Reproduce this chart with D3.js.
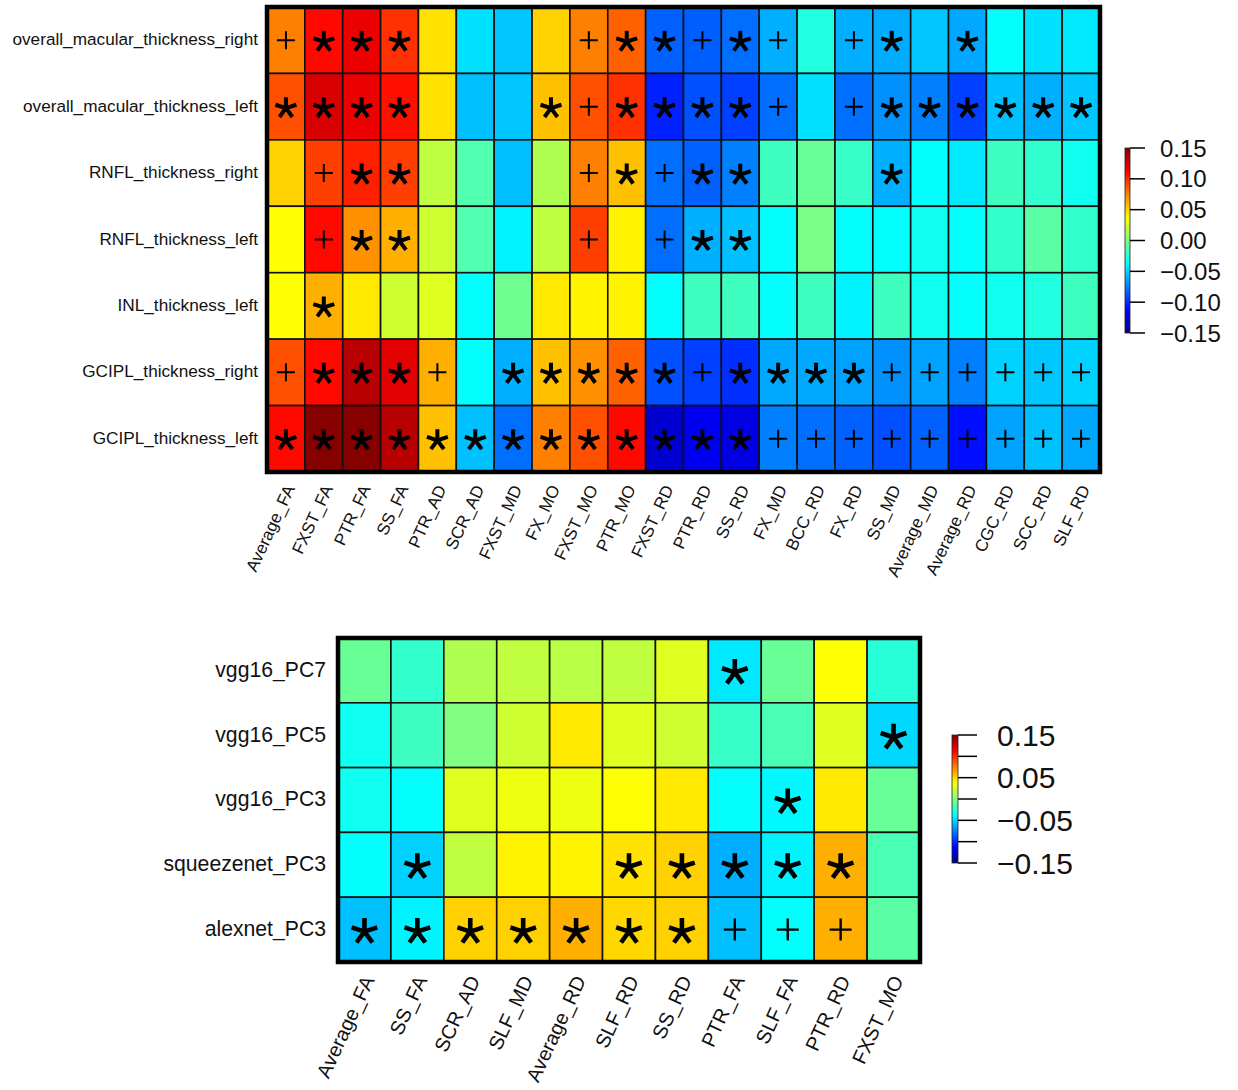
<!DOCTYPE html>
<html>
<head>
<meta charset="utf-8">
<script src="https://cdn.jsdelivr.net/npm/d3@7"></script>
<style>
  html, body { margin: 0; padding: 0; background: #fff; }
  svg { display: block; font-family: "Liberation Sans", Arial, Helvetica, sans-serif; }
</style>
</head>
<body>
<svg id="chart" width="1238" height="1090"></svg>
<script>
// ---------------- DATA ----------------
const topRows = ["overall_macular_thickness_right", "overall_macular_thickness_left", "RNFL_thickness_right",
  "RNFL_thickness_left", "INL_thickness_left", "GCIPL_thickness_right", "GCIPL_thickness_left"];
const topCols = ["Average_FA", "FXST_FA", "PTR_FA", "SS_FA", "PTR_AD", "SCR_AD", "FXST_MD", "FX_MO", "FXST_MO",
  "PTR_MO", "FXST_RD", "PTR_RD", "SS_RD", "FX_MD", "BCC_RD", "FX_RD", "SS_MD", "Average_MD", "Average_RD",
  "CGC_RD", "SCC_RD", "SLF_RD"];
const topValues = [
  [0.075, 0.110, 0.118, 0.098, 0.046, -0.046, -0.054, 0.051, 0.075, 0.084, -0.084, -0.085, -0.080, -0.061, -0.028, -0.061, -0.062, -0.054, -0.063, -0.037, -0.046, -0.044],
  [0.089, 0.124, 0.118, 0.108, 0.046, -0.056, -0.054, 0.056, 0.089, 0.098, -0.103, -0.089, -0.094, -0.080, -0.046, -0.080, -0.070, -0.075, -0.094, -0.056, -0.061, -0.054],
  [0.051, 0.094, 0.103, 0.094, 0.019, -0.014, -0.056, 0.014, 0.075, 0.056, -0.080, -0.084, -0.075, -0.019, -0.007, -0.021, -0.061, -0.037, -0.044, -0.019, -0.023, -0.033],
  [0.037, 0.110, 0.070, 0.061, 0.023, -0.014, -0.041, 0.019, 0.094, 0.041, -0.080, -0.061, -0.056, -0.037, -0.002, -0.037, -0.037, -0.033, -0.037, -0.023, -0.011, -0.023],
  [0.037, 0.061, 0.044, 0.023, 0.028, -0.037, -0.005, 0.044, 0.041, 0.041, -0.037, -0.019, -0.019, -0.037, -0.019, -0.041, -0.019, -0.033, -0.037, -0.033, -0.028, -0.019],
  [0.089, 0.110, 0.133, 0.121, 0.061, -0.037, -0.061, 0.056, 0.070, 0.084, -0.089, -0.094, -0.099, -0.063, -0.063, -0.065, -0.070, -0.065, -0.075, -0.051, -0.054, -0.051],
  [0.110, 0.148, 0.148, 0.133, 0.056, -0.056, -0.080, 0.075, 0.089, 0.110, -0.126, -0.117, -0.121, -0.075, -0.080, -0.084, -0.089, -0.084, -0.108, -0.065, -0.056, -0.063]
];
const topMarks = [
  ["+", "*", "*", "*", "", "", "", "", "+", "*", "*", "+", "*", "+", "", "+", "*", "", "*", "", "", ""],
  ["*", "*", "*", "*", "", "", "", "*", "+", "*", "*", "*", "*", "+", "", "+", "*", "*", "*", "*", "*", "*"],
  ["", "+", "*", "*", "", "", "", "", "+", "*", "+", "*", "*", "", "", "", "*", "", "", "", "", ""],
  ["", "+", "*", "*", "", "", "", "", "+", "", "+", "*", "*", "", "", "", "", "", "", "", "", ""],
  ["", "*", "", "", "", "", "", "", "", "", "", "", "", "", "", "", "", "", "", "", "", ""],
  ["+", "*", "*", "*", "+", "", "*", "*", "*", "*", "*", "+", "*", "*", "*", "*", "+", "+", "+", "+", "+", "+"],
  ["*", "*", "*", "*", "*", "*", "*", "*", "*", "*", "*", "*", "*", "+", "+", "+", "+", "+", "+", "+", "+", "+"]
];

const botRows = ["vgg16_PC7", "vgg16_PC5", "vgg16_PC3", "squeezenet_PC3", "alexnet_PC3"];
const botCols = ["Average_FA", "SS_FA", "SCR_AD", "SLF_MD", "Average_RD", "SLF_RD", "SS_RD", "PTR_FA",
  "SLF_FA", "PTR_RD", "FXST_MO"];
const botValues = [
  [-0.007, -0.023, 0.014, 0.019, 0.017, 0.019, 0.028, -0.044, -0.007, 0.037, -0.026],
  [-0.033, -0.019, 0.000, 0.023, 0.044, 0.028, 0.023, -0.021, -0.016, 0.028, -0.049],
  [-0.033, -0.037, 0.028, 0.033, 0.033, 0.037, 0.044, -0.037, -0.039, 0.044, -0.007],
  [-0.037, -0.051, 0.019, 0.041, 0.041, 0.046, 0.051, -0.061, -0.041, 0.061, -0.016],
  [-0.056, -0.041, 0.051, 0.051, 0.061, 0.049, 0.051, -0.056, -0.037, 0.061, -0.011]
];
const botMarks = [
  ["", "", "", "", "", "", "", "*", "", "", ""],
  ["", "", "", "", "", "", "", "", "", "", "*"],
  ["", "", "", "", "", "", "", "", "*", "", ""],
  ["", "*", "", "", "", "*", "*", "*", "*", "*", ""],
  ["*", "*", "*", "*", "*", "*", "*", "+", "+", "+", ""]
];

const topLegendTicks = [0.15, 0.10, 0.05, 0.00, -0.05, -0.10, -0.15];
const topLegendLabels = ["0.15", "0.10", "0.05", "0.00", "\u22120.05", "\u22120.10", "\u22120.15"];
const botLegendTicks = [0.15, 0.10, 0.05, 0.00, -0.05, -0.10, -0.15];
const botLegendLabels = ["0.15", "", "0.05", "", "\u22120.05", "", "\u22120.15"];

// ---------------- COLOUR ----------------
const clamp01 = v => Math.max(0, Math.min(1, v));
function jet(t) {
  t = clamp01(t);
  const r = clamp01(1.5 - Math.abs(4 * t - 3));
  const g = clamp01(1.5 - Math.abs(4 * t - 2));
  const b = clamp01(1.5 - Math.abs(4 * t - 1));
  return d3.rgb(r * 255, g * 255, b * 255).formatHex();
}
const color = d3.scaleSequential(jet).domain([-0.15, 0.15]);

const svg = d3.select("#chart");
const defs = svg.append("defs");

function heatmap(opts) {
  const { rows, cols, values, marks, x0, x1, y0, y1, rowFont, colFont, rowGap, star, plus, labelOff } = opts;
  const g = svg.append("g");
  const x = d3.scaleBand().domain(cols).range([x0, x1]);
  const y = d3.scaleBand().domain(rows).range([y0, y1]);
  const cells = [];
  rows.forEach((r, i) => cols.forEach((c, j) => cells.push({ r, c, v: values[i][j], m: marks[i][j] })));

  g.selectAll("rect.cell").data(cells).join("rect")
    .attr("class", "cell")
    .attr("x", d => x(d.c)).attr("y", d => y(d.r))
    .attr("width", x.bandwidth()).attr("height", y.bandwidth())
    .attr("fill", d => color(d.v))
    .attr("stroke", "#111").attr("stroke-width", 1.6);

  const starPath = s => {
    let p = "";
    for (let k = 0; k < 5; k++) {
      const a = (-90 + k * 72) * Math.PI / 180;
      p += `M0,0L${(s * Math.cos(a)).toFixed(2)},${(s * Math.sin(a)).toFixed(2)}`;
    }
    return p;
  };
  const plusPath = s => `M${-s},0L${s},0M0,${-s}L0,${s}`;
  g.selectAll("path.mark").data(cells.filter(d => d.m)).join("path")
    .attr("class", "mark")
    .attr("transform", d => `translate(${x(d.c) + x.bandwidth() / 2},${y(d.r) + y.bandwidth() / 2 + (d.m === "*" ? star.dy : 0)})`)
    .attr("d", d => d.m === "*" ? starPath(star.r) : plusPath(plus.r))
    .attr("fill", "none").attr("stroke", "#000")
    .attr("stroke-width", d => d.m === "*" ? star.w : plus.w)
    .attr("stroke-linecap", "butt");

  g.append("rect").attr("x", x0).attr("y", y0).attr("width", x1 - x0).attr("height", y1 - y0)
    .attr("fill", "none").attr("stroke", "#000").attr("stroke-width", 4.5);

  g.selectAll("text.row").data(rows).join("text")
    .attr("class", "row")
    .attr("x", x0 - rowGap).attr("y", d => y(d) + y.bandwidth() / 2 - 1)
    .attr("dy", "0.35em").attr("text-anchor", "end")
    .attr("font-size", rowFont).attr("fill", "#111").text(d => d);

  g.selectAll("text.col").data(cols).join("text")
    .attr("class", "col")
    .attr("transform", d => `translate(${x(d) + x.bandwidth() / 2 + labelOff.dx},${y1 + labelOff.dy}) rotate(-65)`)
    .attr("dy", "0.35em").attr("text-anchor", "end")
    .attr("font-size", colFont).attr("fill", "#111").text(d => d);
}

function legend(opts) {
  const { id, x, y0, y1, w, tickLen, labelGap, font, ticks, labels } = opts;
  const grad = defs.append("linearGradient").attr("id", id)
    .attr("x1", 0).attr("y1", 1).attr("x2", 0).attr("y2", 0);
  d3.range(0, 1.0001, 0.02).forEach(t => grad.append("stop").attr("offset", t).attr("stop-color", jet(t)));
  const s = d3.scaleLinear().domain([-0.15, 0.15]).range([y1, y0]);
  const g = svg.append("g");
  g.append("rect").attr("x", x).attr("y", y0).attr("width", w).attr("height", y1 - y0)
    .attr("fill", `url(#${id})`).attr("stroke", "#222").attr("stroke-width", 0.8);
  g.selectAll("line").data(ticks).join("line")
    .attr("x1", x + w).attr("x2", x + w + tickLen)
    .attr("y1", d => s(d)).attr("y2", d => s(d))
    .attr("stroke", "#000").attr("stroke-width", 1.5);
  g.selectAll("text").data(ticks.map((t, i) => ({ t, l: labels[i] })).filter(d => d.l)).join("text")
    .attr("x", x + w + labelGap).attr("y", d => s(d.t)).attr("dy", "0.36em")
    .attr("font-size", font).attr("fill", "#111").text(d => d.l);
}

heatmap({
  rows: topRows, cols: topCols, values: topValues, marks: topMarks,
  x0: 267, x1: 1100, y0: 7, y1: 472, rowFont: 17.2, colFont: 17, rowGap: 9,
  star: { r: 11, w: 4, dy: 1.5 }, plus: { r: 9, w: 2 }, labelOff: { dx: 4, dy: 14 }
});
heatmap({
  rows: botRows, cols: botCols, values: botValues, marks: botMarks,
  x0: 338, x1: 920, y0: 638, y1: 962, rowFont: 21.2, colFont: 20, rowGap: 12,
  star: { r: 13.5, w: 4.6, dy: 2 }, plus: { r: 11, w: 2.4 }, labelOff: { dx: 4, dy: 15 }
});
legend({ id: "gTop", x: 1125, y0: 148, y1: 333, w: 5, tickLen: 15, labelGap: 30, font: 24,
  ticks: topLegendTicks, labels: topLegendLabels });
legend({ id: "gBot", x: 952, y0: 735, y1: 863, w: 6, tickLen: 19, labelGap: 39, font: 30,
  ticks: botLegendTicks, labels: botLegendLabels });
</script>
</body>
</html>
